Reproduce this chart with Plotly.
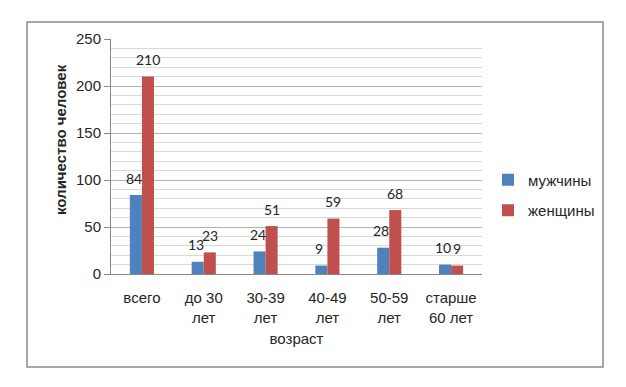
import plotly.graph_objects as go

categories = ["всего", "до 30<br>лет", "30-39<br>лет", "40-49<br>лет", "50-59<br>лет", "старше<br>60 лет"]
men = [84, 13, 24, 9, 28, 10]
women = [210, 23, 51, 59, 68, 9]
y_ticks = [0, 50, 100, 150, 200, 250]

FONT = "Liberation Sans, Arial, sans-serif"
LBL_FONT = "Lato, Liberation Sans, sans-serif"
TXT = "#262626"
BLUE, RED = "#4F81BD", "#C0504D"

fig = go.Figure()
fig.add_trace(go.Bar(name="мужчины", x=categories, y=men, marker=dict(color=BLUE, line=dict(width=0)),
                     legendgroup="m", hoverinfo="x+y+name"))
fig.add_trace(go.Bar(name="женщины", x=categories, y=women, marker=dict(color=RED, line=dict(width=0)),
                     legendgroup="w", hoverinfo="x+y+name"))

OFF = 8  # page body margin
W, H = 626 - OFF, 387 - OFF
L, R, T, B = 111, 482, 39, 274  # target screen coords of plot area
pw, ph = R - L, B - T

def px(x):
    return (x - L) / pw

def py(y):
    return (B - y) / ph

# data labels above the bars (value labels, placed through the axes)
annotations = []
for series, dx in ((men, -8), (women, 6)):
    for cat, v in zip(categories, series):
        annotations.append(dict(x=cat, y=v, xref="x", yref="y", text=str(v), showarrow=False,
                                xanchor="center", yanchor="middle", xshift=dx, yshift=17,
                                borderpad=0,
                                font=dict(family=LBL_FONT, size=14, color=TXT)))
annotations.append(dict(text="<b>количество человек</b>", xref="paper", yref="paper",
                        x=px(60), y=py(140), xanchor="center", yanchor="middle",
                        textangle=-90, showarrow=False,
                        font=dict(family=FONT, size=15, color=TXT)))

fig.update_layout(
    width=W, height=H,
    margin=dict(l=L - OFF, r=W + OFF - R, t=T - OFF, b=H + OFF - B, pad=0),
    paper_bgcolor="white", plot_bgcolor="white",
    barmode="group", bargap=0.61, bargroupgap=0,
    font=dict(family=FONT, size=15, color=TXT),
    showlegend=True,
    legend=dict(x=px(488), y=py(195), xanchor="left", yanchor="middle",
                traceorder="grouped", tracegroupgap=8,
                font=dict(family=FONT, size=15, color=TXT),
                itemwidth=30, bgcolor="rgba(0,0,0,0)"),
    shapes=[dict(type="rect", xref="paper", yref="paper",
                 x0=px(27), x1=px(603), y0=py(367), y1=py(22),
                 line=dict(color="#8C8C8C", width=1.5), layer="below")],
    annotations=annotations,
)

fig.update_xaxes(
    showline=True, linecolor="#868686", linewidth=1,
    ticks="", showgrid=False,
    tickfont=dict(family=FONT, size=15, color=TXT),
    ticklabelstandoff=10,
    title=dict(text="возраст", font=dict(family=FONT, size=15, color=TXT), standoff=8),
)
fig.update_yaxes(
    range=[0, 250], tickvals=y_ticks,
    showline=True, linecolor="#868686", linewidth=1,
    ticks="outside", ticklen=6, tickcolor="#868686",
    showgrid=True, gridcolor="#B3B3B3", gridwidth=1,
    minor=dict(dtick=10, showgrid=True, gridcolor="#D9D9D9", gridwidth=1),
    zeroline=False,
    tickfont=dict(family=FONT, size=15, color=TXT),
)

fig.write_html("out.html")
